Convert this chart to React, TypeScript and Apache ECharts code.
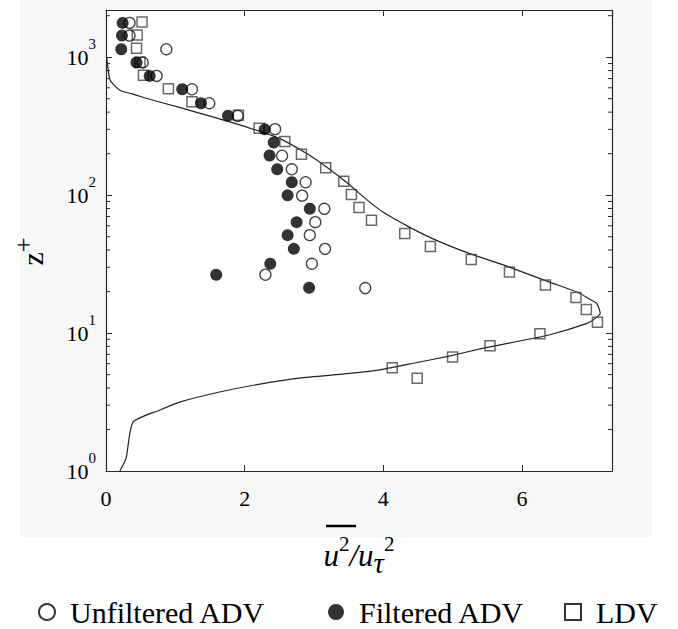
import React, { useEffect, useRef } from 'react';
import * as echarts from 'echarts';

// ---- data ----
const unfilteredU = [0.34, 0.34, 0.87, 0.53, 0.73, 1.24, 1.49, 1.90, 2.44, 2.54, 2.68, 2.88, 2.83, 3.15, 3.02, 2.94, 3.16, 2.97, 2.30, 3.74];
const unfilteredZ = [1774, 1436, 1143, 916, 732, 586, 464, 376, 301, 193, 154, 124, 99.2, 79.6, 63.7, 51.3, 40.8, 31.8, 26.5, 21.2];

const filteredU = [0.24, 0.23, 0.22, 0.44, 0.63, 1.10, 1.37, 1.76, 2.29, 2.42, 2.36, 2.47, 2.68, 2.62, 2.94, 2.75, 2.62, 2.71, 2.37, 1.59, 2.93];
const filteredZ = [1774, 1436, 1143, 916, 732, 586, 464, 377, 300, 241, 194, 154, 124, 99.7, 79.6, 63.7, 51.3, 40.8, 31.8, 26.5, 21.3];

const ldvU = [0.52, 0.45, 0.44, 0.49, 0.54, 0.90, 1.24, 1.91, 2.21, 2.58, 2.82, 3.17, 3.43, 3.54, 3.65, 3.83, 4.31, 4.68, 5.27, 5.82, 6.34, 6.78, 6.93, 7.09, 6.26, 5.54, 5.00, 4.13, 4.49];
const ldvZ = [1800, 1450, 1160, 920, 740, 590, 476, 380, 306, 245, 198, 158, 126, 101, 81.4, 65.7, 52.8, 42.5, 34.2, 27.7, 22.3, 18.1, 14.8, 12.0, 9.9, 8.1, 6.7, 5.6, 4.7];

const curveU = [0.20, 0.29, 0.39, 0.78, 1.06, 1.64, 2.22, 2.79, 3.51, 3.99, 4.47, 4.95, 5.43, 5.91, 6.39, 6.94, 7.06, 7.13, 7.08, 6.96, 6.82, 6.39, 5.81, 5.24, 4.76, 4.37, 3.99, 3.77, 3.46, 3.18, 2.89, 2.50, 2.02, 1.54, 1.10, 0.63, 0.39, 0.20, 0.06, 0.02, 0.01];
const curveZ = [1.0, 1.24, 2.26, 2.77, 3.16, 3.74, 4.27, 4.72, 5.10, 5.46, 6.09, 6.81, 7.74, 8.65, 9.68, 11.75, 12.78, 13.9, 16.4, 17.8, 19.6, 23.5, 30.2, 37.8, 47.2, 58.9, 75.7, 92.0, 125, 160, 201, 258, 313, 369, 427, 496, 540, 576, 681, 900, 1000];

const xTickInterval = 2;
const xMin = 0;
const xMax = 7.3;
const zMin = 1;
const zMax = 2200;
const minorTickValues = [2, 3, 4, 5, 6, 7, 8, 9, 20, 30, 40, 50, 60, 70, 80, 90, 200, 300, 400, 500, 600, 700, 800, 900, 2000];

const seriesNames = ['Unfiltered ADV', 'Filtered ADV', 'LDV'];

const FONT = "'Liberation Serif', 'Times New Roman', serif";
const AXIS = '#2a2a2a';

function pairs(xs: number[], ys: number[]) {
  return xs.map((x, i) => [x, ys[i]]);
}

export default function App() {
  const ref = useRef<HTMLDivElement>(null);
  useEffect(() => {
    const chart = echarts.init(ref.current!, null, { renderer: 'svg' });
    const axisLine = { show: true, onZero: false, lineStyle: { color: AXIS, width: 1.2 } };
    const tick = { show: true, inside: true, length: 6, lineStyle: { color: AXIS, width: 1 } };
    const option: any = {
      animation: false,
      backgroundColor: '#ffffff',
      graphic: [
        { type: 'rect', z: -100, silent: true, shape: { x: 20, y: 0, width: 632, height: 537 }, style: { fill: '#f7f7f7' } },
        { type: 'line', silent: true, shape: { x1: 326, y1: 526, x2: 356, y2: 526 }, style: { stroke: '#000', lineWidth: 2.5 } },
      ],
      grid: { left: 106, right: 66, top: 10, bottom: 158, show: true, backgroundColor: '#ffffff', borderWidth: 0 },
      legend: [
        { left: 33, data: [{ name: seriesNames[0], icon: 'circle', itemStyle: { color: '#fff', borderColor: '#000', borderWidth: 2 } }] },
        { left: 323, data: [{ name: seriesNames[1], icon: 'circle', itemStyle: { color: '#000', borderWidth: 0 } }] },
        { left: 559, data: [{ name: seriesNames[2], icon: 'rect', itemStyle: { color: '#fff', borderColor: '#000', borderWidth: 2 } }] },
      ].map((l) => ({
        ...l,
        top: 592,
        itemWidth: 16,
        itemHeight: 16,
        selectedMode: false,
        formatter: (n: string) => '{t|' + n + '}',
        textStyle: { fontFamily: FONT, fontSize: 30, color: '#000', rich: { t: { fontFamily: FONT, fontSize: 30, color: '#000', padding: [0, 0, 0, 10] } } },
      })),
      xAxis: [
        {
          type: 'value', min: xMin, max: xMax, interval: xTickInterval, position: 'bottom',
          axisLine, axisTick: tick, splitLine: { show: false },
          axisLabel: { fontFamily: FONT, fontSize: 22, color: '#000', margin: 16, showMaxLabel: false },
          name: '{u|u}{sp|2}{n|/u}{sb|τ}{sp|2}',
          nameLocation: 'middle', nameGap: 62,
          nameTextStyle: {
            rich: {
              u: { fontFamily: FONT, fontStyle: 'italic', fontSize: 31, lineHeight: 44, color: '#000' },
              n: { fontFamily: FONT, fontStyle: 'italic', fontSize: 31, lineHeight: 44, color: '#000' },
              sp: { fontFamily: FONT, fontSize: 21, lineHeight: 20, verticalAlign: 'top', color: '#000' },
              sb: { fontFamily: FONT, fontStyle: 'italic', fontSize: 29, lineHeight: 24, verticalAlign: 'bottom', color: '#000' },
            },
          },
        },
        {
          type: 'value', min: xMin, max: xMax, interval: xTickInterval, position: 'top',
          axisLine, axisTick: tick, splitLine: { show: false }, axisLabel: { show: false },
        },
      ],
      yAxis: [
        {
          type: 'log', logBase: 10, min: zMin, max: zMax, position: 'left',
          axisLine, axisTick: tick, splitLine: { show: false }, minorTick: { show: false },
          axisLabel: {
            margin: 10, showMaxLabel: false,
            formatter: (v: number) => '{b|10}{s|' + Math.round(Math.log10(v)) + '}',
            rich: {
              b: { fontFamily: FONT, fontSize: 22, lineHeight: 42, color: '#000' },
              s: { fontFamily: FONT, fontSize: 15, lineHeight: 15, verticalAlign: 'top', color: '#000' },
            },
          },
          name: '{z|z}{p|+}',
          nameLocation: 'middle', nameGap: 52, nameRotate: 90,
          nameTextStyle: {
            padding: [0, 22, 0, 0],
            rich: {
              z: { fontFamily: FONT, fontSize: 30, lineHeight: 44, color: '#000' },
              p: { fontFamily: FONT, fontSize: 26, lineHeight: 24, verticalAlign: 'top', color: '#000' },
            },
          },
        },
        {
          type: 'log', logBase: 10, min: zMin, max: zMax, position: 'right',
          axisLine, axisTick: tick, splitLine: { show: false }, axisLabel: { show: false },
        },
      ],
      series: [
        {
          type: 'custom', name: 'minorTicks', silent: true, z: 1,
          data: minorTickValues.map((v) => [xMin, v]),
          renderItem: (params: any, api: any) => {
            const v = api.value(1);
            const pl = api.coord([xMin, v]);
            const pr = api.coord([xMax, v]);
            const st = { stroke: AXIS, lineWidth: 1 };
            return {
              type: 'group',
              children: [
                { type: 'line', shape: { x1: pl[0], y1: pl[1], x2: pl[0] + 4, y2: pl[1] }, style: st },
                { type: 'line', shape: { x1: pr[0], y1: pr[1], x2: pr[0] - 4, y2: pr[1] }, style: st },
              ],
            };
          },
        },
        {
          type: 'line', name: 'curve', data: pairs(curveU, curveZ), showSymbol: false, smooth: 0.2,
          lineStyle: { color: '#222', width: 1.2 }, z: 2, silent: true,
        },
        {
          type: 'scatter', name: seriesNames[2], data: pairs(ldvU, ldvZ), symbol: 'rect', symbolSize: 10,
          itemStyle: { color: 'rgba(0,0,0,0)', borderColor: '#444', borderWidth: 1.5 }, z: 3,
        },
        {
          type: 'scatter', name: seriesNames[0], data: pairs(unfilteredU, unfilteredZ), symbol: 'circle', symbolSize: 11,
          itemStyle: { color: 'rgba(0,0,0,0)', borderColor: '#111', borderWidth: 1.3 }, z: 4,
        },
        {
          type: 'scatter', name: seriesNames[1], data: pairs(filteredU, filteredZ), symbol: 'circle', symbolSize: 12,
          itemStyle: { color: '#000', borderWidth: 0 }, z: 5,
        },
      ],
    };
    chart.setOption(option);
    return () => chart.dispose();
  }, []);
  return <div ref={ref} style={{ position: 'fixed', left: 0, top: 0, width: 678, height: 629 }} />;
}
